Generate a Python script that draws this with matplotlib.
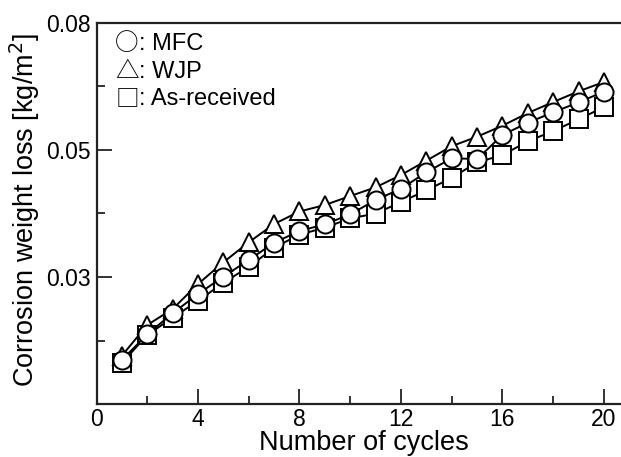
import matplotlib
matplotlib.use("Agg")
import matplotlib.pyplot as plt
from matplotlib.ticker import MultipleLocator

cycles = list(range(1, 21))
mfc = [0.00866, 0.01372, 0.01785, 0.02165, 0.02506, 0.02835, 0.03175, 0.03406,
       0.03537, 0.03734, 0.04016, 0.04238, 0.04561, 0.04837, 0.04823, 0.05295,
       0.05538, 0.05742, 0.05939, 0.06148]
wjp = [0.00951, 0.01555, 0.0187, 0.02362, 0.0279, 0.03183, 0.03543, 0.0379,
       0.03917, 0.04094, 0.04265, 0.04508, 0.0479, 0.05076, 0.05262, 0.05479,
       0.05728, 0.05945, 0.06155, 0.06339]
asrec = [0.00807, 0.01358, 0.0170, 0.02028, 0.02388, 0.02697, 0.03077, 0.03335,
         0.0347, 0.03655, 0.03747, 0.03976, 0.04206, 0.04452, 0.04757, 0.0490,
         0.05171, 0.05374, 0.05604, 0.05846]

xticks = [0, 4, 8, 12, 16, 20]
yticks = [0.025, 0.05, 0.075]
yticklabels = ["0.03", "0.05", "0.08"]
legend_syms = ["○", "△", "□"]
legend_labels = [": MFC", ": WJP", ": As-received"]

plt.rcParams['font.family'] = ['Liberation Sans', 'DejaVu Sans']

W, H = 621, 457
fig = plt.figure(figsize=(W / 100, H / 100), dpi=100)
ax = fig.add_axes([96.5 / W, 1 - 404 / H, 1 - 96.5 / W, (404 - 23) / H])

mk = dict(color='black', lw=1.4, markersize=13, markerfacecolor='white',
          markeredgecolor='black', markeredgewidth=1.4)
ax.plot(cycles, asrec, marker='s', zorder=3, **mk)
ax.plot(cycles, wjp, marker='^', zorder=4, **mk)
ax.plot(cycles, mfc, marker='o', zorder=5, **mk)

ax.set_xlim(0, 20.67)
ax.set_ylim(0, 0.075)
ax.set_xticks(xticks)
ax.set_xticklabels([str(t) for t in xticks])
ax.xaxis.set_minor_locator(MultipleLocator(2))
ax.set_yticks(yticks)
ax.set_yticklabels(yticklabels)
ax.yaxis.set_minor_locator(MultipleLocator(0.0125))

ax.tick_params(which='both', direction='in', width=1.3, color='#222222',
               labelsize=16.5, top=False, right=False)
ax.tick_params(which='major', length=11)
ax.tick_params(axis='x', which='major', pad=3)
ax.tick_params(axis='y', which='major', pad=4)
ax.tick_params(which='minor', length=6)
for s in ['left', 'bottom', 'top']:
    ax.spines[s].set_linewidth(1.6)
    ax.spines[s].set_color('#222222')
ax.spines['right'].set_visible(False)

fig.text(364 / W, 1 - 450 / H, 'Number of cycles', fontsize=19.5,
         ha='center', va='baseline')
fig.text(25 / W, 1 - 210 / H, 'Corrosion weight loss [kg/m$^2$]', fontsize=19.5,
         ha='center', va='center', rotation=90)

for i, (sym, lab) in enumerate(zip(legend_syms, legend_labels)):
    yc = 1 - (44 + 27.5 * i) / H
    fig.text(127 / W, yc, sym, fontsize=17, ha='center', va='center',
             family=['Noto Sans CJK JP', 'DejaVu Sans'])
    fig.text(139 / W, yc, lab, fontsize=17, ha='left', va='center')

fig.savefig('out.png', dpi=100)
